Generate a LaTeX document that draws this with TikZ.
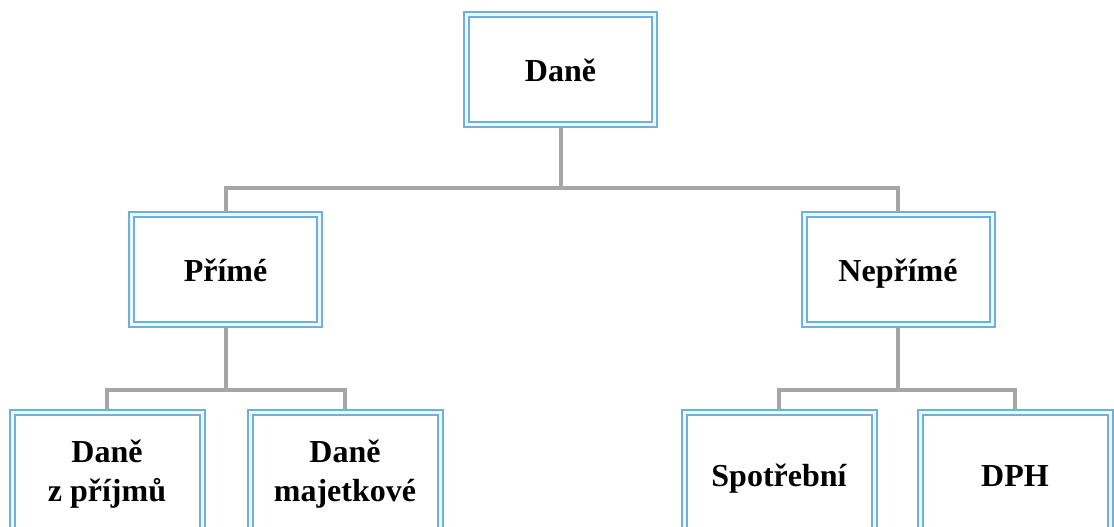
\documentclass[tikz,border=0pt]{standalone}
\usepackage{fontspec}
\setmainfont{Liberation Serif}
\usetikzlibrary{backgrounds}
\definecolor{boxblue}{RGB}{110,175,220}
\definecolor{linegray}{RGB}{166,166,166}

\begin{document}
\begin{tikzpicture}[
    x=0.5pt, y=-0.5pt,
    box/.style={
        rectangle,
        draw=boxblue,
        line width=1pt,
        double=boxblue!10,
        double distance=1.5pt,
        fill=white,
        align=center,
        font=\fontsize{16}{19.5}\selectfont\bfseries,
        minimum width=94pt,
        minimum height=55pt,
        inner sep=0pt
    },
    oneline/.style={
        text height=15pt,
        text depth=3pt
    },
    lowbox/.style={
        box,
        minimum width=95pt,
        minimum height=62pt
    },
    conn/.style={
        draw=linegray,
        line width=2pt
    }
]
\clip (0,0) rectangle (1114,526);
\useasboundingbox (0,0) rectangle (1114,526);

\node[box, oneline] (dane) at (560.5,69) {Daně};
\node[box, oneline] (prime) at (225.5,269) {Přímé};
\node[box, oneline] (neprime) at (898,269) {Nepřímé};
\node[lowbox] (prijmy) at (107,474) {Daně\\z příjmů};
\node[lowbox] (majetek) at (345,474) {Daně\\majetkové};
\node[lowbox, oneline] (spotrebni) at (779,474) {Spotřební};
\node[lowbox, oneline] (dph) at (1015,474) {DPH};

% Junctions of the tree
\coordinate (jtop) at (560.5,188);
\coordinate (jleft) at (225.5,390);
\coordinate (jright) at (898,390);

% Connectors behind the boxes
\begin{scope}[on background layer]
\draw[conn] (dane) -- (jtop);
\draw[conn] (prime) |- (jtop) -| (neprime);
\draw[conn] (prime) -- (jleft);
\draw[conn] (prijmy) |- (jleft) -| (majetek);
\draw[conn] (neprime) -- (jright);
\draw[conn] (spotrebni) |- (jright) -| (dph);
\end{scope}

\end{tikzpicture}
\end{document}
